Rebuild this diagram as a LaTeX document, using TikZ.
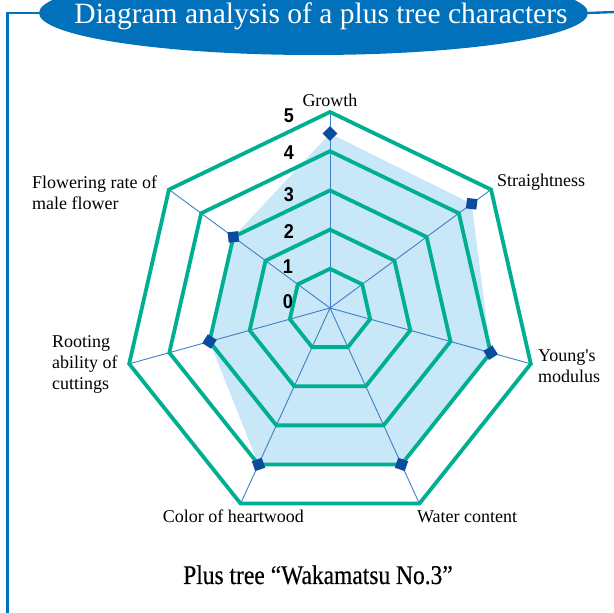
\documentclass[tikz,border=0pt]{standalone}
\usepackage{fontspec}
\setmainfont{Liberation Serif}
\newfontfamily\numfont[FakeStretch=0.9]{Liberation Sans}
\newfontfamily\capfont[FakeStretch=0.87,FakeBold=0.4]{Liberation Serif}
\usepackage{tikz}
\usetikzlibrary{shapes.geometric,positioning}
\definecolor{ringgreen}{HTML}{00AE91}
\definecolor{spokeblue}{HTML}{3D80C6}
\definecolor{markblue}{HTML}{0A4B9E}
\definecolor{areablue}{HTML}{C8E7F7}
\definecolor{titleblue}{HTML}{0071BA}

\begin{document}
\begin{tikzpicture}[x=1pt,y=1pt]
\tikzstyle{ring}=[draw=ringgreen,line width=3.8pt,line join=miter]
\tikzstyle{spoke}=[draw=spokeblue,line width=0.9pt]
\tikzstyle{datamark}=[fill=markblue,inner sep=0pt,minimum size=10.5pt]
\tikzstyle{axislabel}=[font=\fontsize{18}{21}\selectfont,align=left,inner sep=0pt]
\tikzstyle{scalenum}=[font=\numfont\bfseries\fontsize{20}{20}\selectfont,inner sep=0pt]
\tikzstyle{frame}=[draw=titleblue,line width=2.4pt]

\useasboundingbox (-330,-305) rectangle (284,308);

\coordinate (O) at (0,0);

% outer corners and data points
\foreach \i in {0,...,6}
  \coordinate (v\i) at ([shift={(0,-10)}]90+\i*360/7:206);
\foreach \v [count=\i from 0] in {4.45,3,3,4,4,4,4.4}
  \coordinate (d\i) at ([shift={(0,-2*\v)}]90+\i*360/7:41.2*\v);

\fill[areablue] (d0) -- (d1) -- (d2) -- (d3) -- (d4) -- (d5) -- (d6) -- cycle;

\foreach \i in {0,...,6}
  \draw[spoke] (O) -- (v\i);

\foreach \k in {1,...,5}
  \draw[ring] ([shift={(0,-2*\k)}]90:41.2*\k)
    \foreach \j in {1,...,6} { -- ([shift={(0,-2*\k)}]90+\j*360/7:41.2*\k) } -- cycle;

\foreach \i in {0,...,6}
  \node[datamark,rotate=45+\i*360/7] (m\i) at (d\i) {};

% scale
\node[scalenum] (s5) at (-41,192) {5};
\node[scalenum] (s4) at (-41,155) {4};
\node[scalenum] (s3) at (-41,113) {3};
\node[scalenum] (s2) at (-41,76)  {2};
\node[scalenum] (s1) at (-42,41)  {1};
\node[scalenum] (s0) at (-42,6)   {0};

% characters
\node[axislabel,anchor=base]      (growth)   at (0,201)    {Growth};
\node[axislabel,anchor=base west] (straight) at (167,121)  {Straightness};
\node[axislabel,anchor=west]      (young)    at (208,-58)  {Young\textquotesingle s\\modulus};
\node[axislabel,anchor=base west] (water)    at (87,-215)  {Water content};
\node[axislabel,anchor=base east] (heart)    at (-26,-215) {Color of heartwood};
\node[axislabel,anchor=west]      (rooting)  at (-278,-56) {Rooting\\ability of\\cuttings};
\node[axislabel,anchor=west]      (flower)   at (-298,115) {Flowering rate of\\male flower};

\node[anchor=base,inner sep=0pt,font=\capfont\fontsize{27}{27}\selectfont]
  (caption) at (-12,-276) {Plus tree\hspace{6pt}“Wakamatsu No.3”};

% title
\node[ellipse,fill=titleblue,minimum width=549pt,minimum height=84pt,inner sep=0pt]
  (titlebox) at (-16.5,295) {};
\node[anchor=base,inner sep=0pt,text=white,font=\fontsize{29.5}{29.5}\selectfont]
  (title) at (-9,284) {Diagram analysis of a plus tree characters};

\coordinate (fcorner) at (-322.5,295);
\coordinate (fbottom) at (-322.5,-306);
\coordinate (fright)  at (285,296);
\draw[frame] (titlebox.west) -- (fcorner) -- (fbottom);
\draw[frame] (titlebox.east) -- (fright);
\end{tikzpicture}
\end{document}
